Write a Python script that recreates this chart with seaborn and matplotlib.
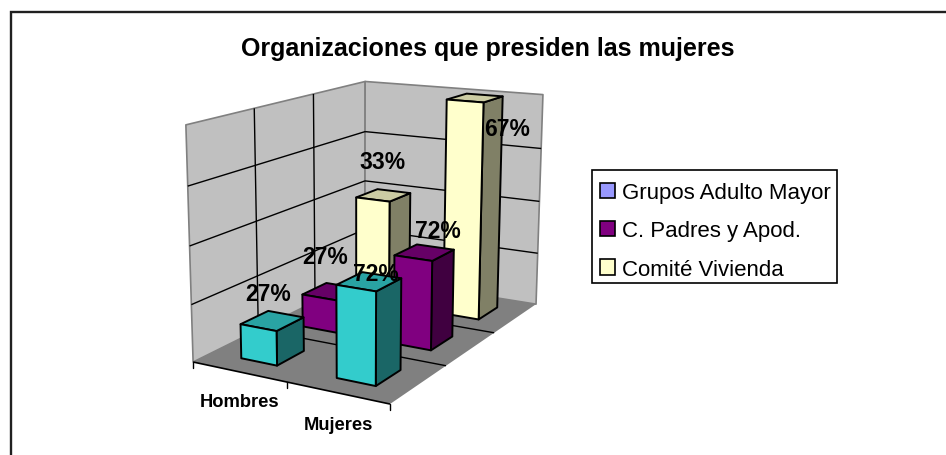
import numpy as np
import pandas as pd
import matplotlib
matplotlib.use("Agg")
import matplotlib.pyplot as plt
from matplotlib.patches import Patch, Polygon, Rectangle
import seaborn as sns

# ---- data -------------------------------------------------------------
categories = ["Hombres", "Mujeres"]
series_names = ["Grupos Adulto Mayor", "C. Padres y Apod.", "Comité Vivienda"]
grupos_values = [3, 7.8]
padres_values = [3, 7.9]
vivienda_values = [10, 20]
grupos_labels = ["27%", "72%"]
padres_labels = ["27%", "72%"]
vivienda_labels = ["33%", "67%"]
axis_max = 20
axis_intervals = 4

# ---- style ------------------------------------------------------------
sns.set_theme(style="white", rc={"axes.linewidth": 0})
plt.rcParams["font.family"] = ["Liberation Sans", "DejaVu Sans"]
bar_palette = sns.color_palette(["#33CCCC", "#800080", "#FFFFCC"])
legend_palette = sns.color_palette(["#9999FF", "#800080", "#FFFFCC"])
TOP_SHADE, SIDE_SHADE = 0.80, 0.50
WALL, FLOOR = "#C0C0C0", "#808080"
BAR_X, BAR_Y = 0.385, 0.43

# ---- projection: unit box (category, depth, height) -> pixel position --
box_corners = np.array([(0,0,0),(1,0,0),(1,1,0),(0,1,0),(0,0,1),(0,1,1),(1,1,1)], float)
box_pixels = np.array([(193,362),(390,406),(536,304),(365,279),(186,126),(365,82),(543,96)], float)
rows = []
for (X, Y, Z), (u, v) in zip(box_corners, box_pixels):
    rows.append([X, Y, Z, 1, 0, 0, 0, 0, -u*X, -u*Y, -u*Z, -u])
    rows.append([0, 0, 0, 0, X, Y, Z, 1, -v*X, -v*Y, -v*Z, -v])
P = np.linalg.svd(np.array(rows))[2][-1].reshape(3, 4)


def project(X, Y, Z):
    h = P @ np.array([X, Y, Z, 1.0])
    return h[0] / h[2], h[1] / h[2]


def shade(color, factor):
    return tuple(c * factor for c in color)


fig = plt.figure(figsize=(9.46, 4.56), dpi=100)
ax = fig.add_axes([0, 0, 1, 1])
ax.set_xlim(0, 946)
ax.set_ylim(456, 0)
ax.axis("off")

# chart frame: only top and left edges are inside the picture
ax.plot([10.5, 10.5, 946], [456, 12.5, 12.5], color="#202020", lw=1.7, zorder=0,
        solid_joinstyle="miter")


def face(points, fc, ec, lw, z):
    ax.add_patch(Polygon([project(*p) for p in points], closed=True, fc=fc, ec=ec, lw=lw,
                         joinstyle="round", zorder=z))


# walls and floor
face([(0,0,0),(0,1,0),(0,1,1),(0,0,1)], WALL, "#808080", 1.2, 1)
face([(0,1,0),(1,1,0),(1,1,1),(0,1,1)], WALL, "#808080", 1.2, 1)
face([(0,0,0),(1,0,0),(1,1,0),(0,1,0)], FLOOR, "none", 0, 1)


def seg(a, b, color="black", lw=1.0, z=2):
    pa, pb = project(*a), project(*b)
    ax.plot([pa[0], pb[0]], [pa[1], pb[1]], color=color, lw=lw, zorder=z, solid_capstyle="butt")


for i in range(1, axis_intervals):
    zi = i / axis_intervals
    seg((0, 0, zi), (0, 1, zi))
    seg((0, 1, zi), (1, 1, zi))
for j in range(1, len(series_names)):
    yj = j / len(series_names)
    seg((0, yj, 0), (0, yj, 1))
    seg((0, yj, 0), (1, yj, 0))

# category axis line and ticks
seg((0, 0, 0), (1, 0, 0), lw=1.2)
for i in range(len(categories) + 1):
    x0, y0 = project(i / len(categories), 0, 0)
    ax.plot([x0, x0], [y0, y0 + 6], color="black", lw=1.0, zorder=2)
for name, pos in zip(categories, [(240, 403), (338, 426)]):
    ax.text(*pos, name, ha="center", va="center", fontsize=13.2, fontweight="bold", color="black")

# bars, back to front
values = [grupos_values, padres_values, vivienda_values]
n_cat, n_ser = len(categories), len(series_names)
z_order = 3
for j in reversed(range(n_ser)):
    for i in range(n_cat):
        h = values[j][i] / axis_max
        x0 = (i + 0.51 - BAR_X / 2) / n_cat
        x1 = (i + 0.51 + BAR_X / 2) / n_cat
        y0 = (j + 0.5 - BAR_Y / 2) / n_ser
        y1 = (j + 0.5 + BAR_Y / 2) / n_ser
        col = bar_palette[j]
        face([(x1,y0,0),(x1,y1,0),(x1,y1,h),(x1,y0,h)], shade(col, SIDE_SHADE), "black", 1.4, z_order)
        face([(x0,y0,h),(x1,y0,h),(x1,y1,h),(x0,y1,h)], shade(col, TOP_SHADE), "black", 1.4, z_order)
        face([(x0,y0,0),(x1,y0,0),(x1,y0,h),(x0,y0,h)], col, "black", 1.4, z_order)
        z_order += 1

# data labels
label_text = grupos_labels + padres_labels + vivienda_labels
label_pos = [(268, 295), (376, 275), (325, 258), (438, 232), (382, 163), (507, 130)]
for txt, pos in zip(label_text, label_pos):
    ax.text(*pos, txt, ha="center", va="center", fontsize=16.5, fontweight="bold", color="black", zorder=20)

ax.text(488, 49, "Organizaciones que presiden las mujeres", ha="center", va="center",
        fontsize=18, fontweight="bold", color="black", zorder=20)

# legend: frame box plus library legend entries
ax.add_patch(Rectangle((592, 171), 245, 113, fc="white", ec="black", lw=1.2, zorder=19))
handles = [Patch(fc=c, ec="black", lw=1.2, label=n) for c, n in zip(legend_palette, series_names)]
leg = ax.legend(handles=handles, loc="upper left", bbox_to_anchor=(592, 175),
                bbox_transform=ax.transData, frameon=False,
                fontsize=16, handlelength=0.68, handleheight=0.68,
                handletextpad=0.33, labelspacing=0.78, borderpad=0.36, borderaxespad=0,
                labelcolor="black")
leg.set_zorder(20)

fig.savefig("out.png", dpi=100)
